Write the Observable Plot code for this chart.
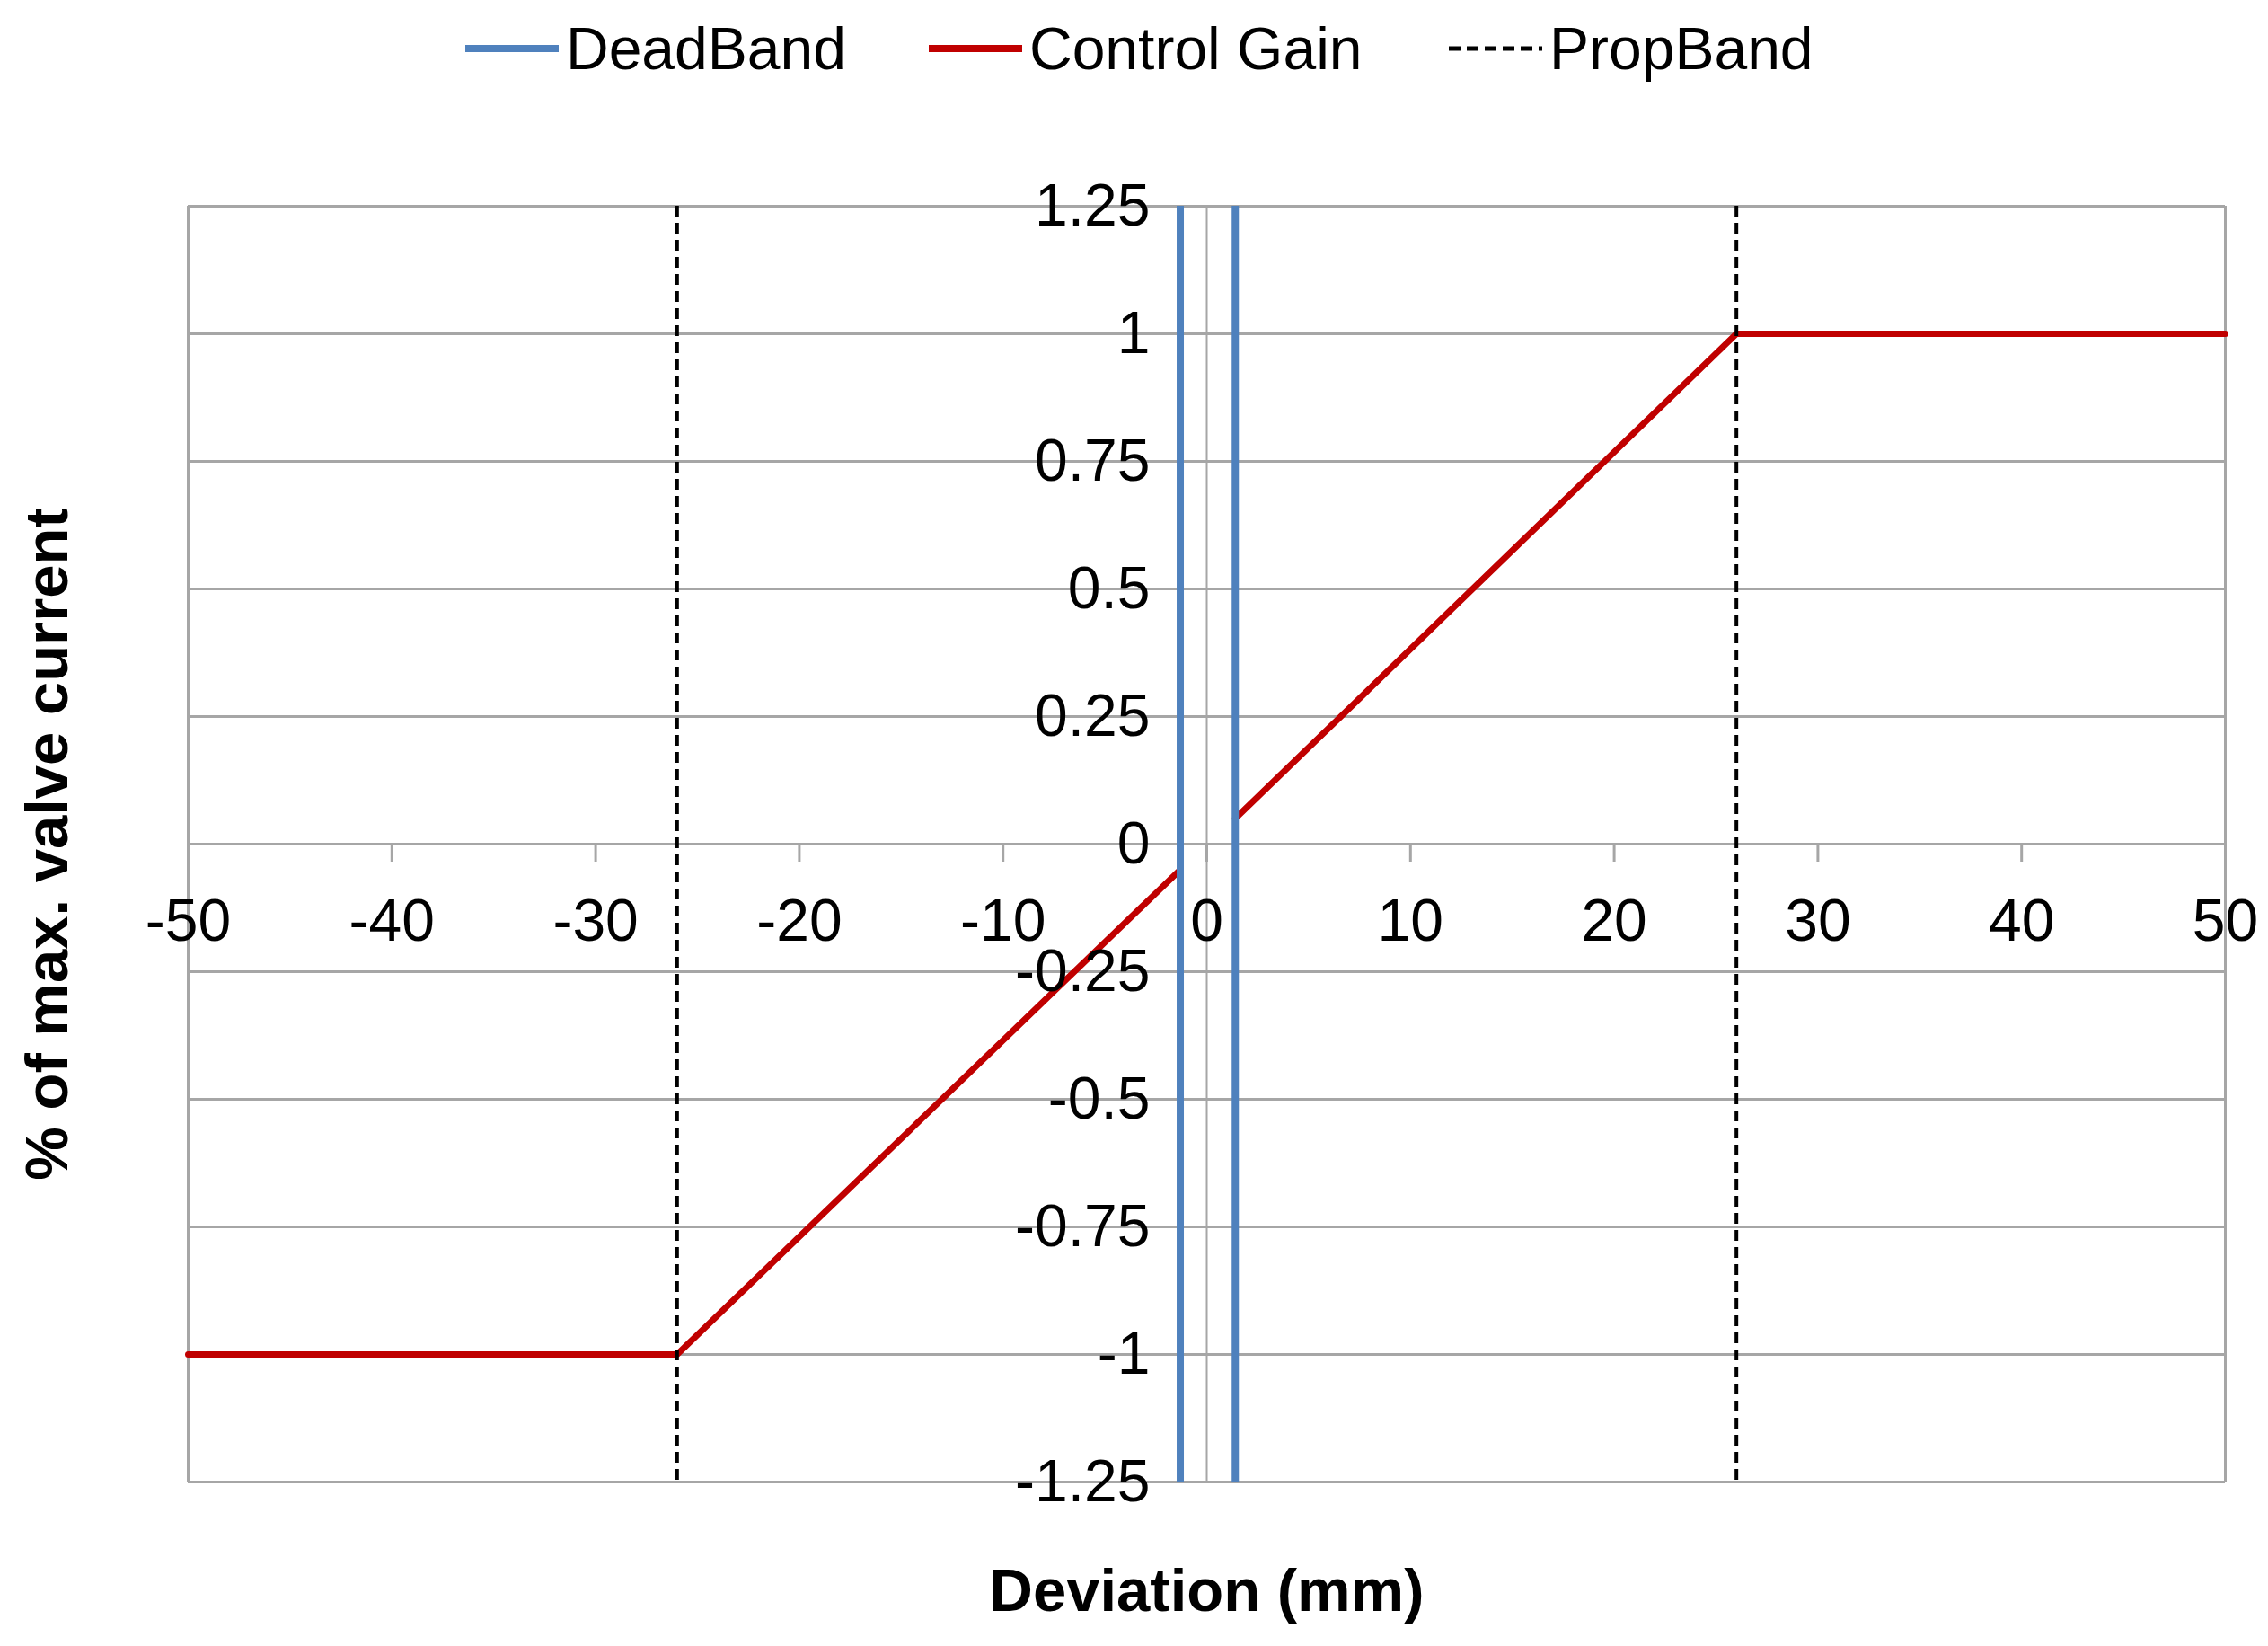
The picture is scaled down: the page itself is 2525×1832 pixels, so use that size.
<!DOCTYPE html>
<html>
<head>
<meta charset="utf-8">
<script src="https://cdn.jsdelivr.net/npm/d3@7"></script>
<script src="https://cdn.jsdelivr.net/npm/@observablehq/plot@0.6"></script>
<style>
  html, body { margin: 0; padding: 0; background: #fff; }
  body { width: 2525px; height: 1832px; overflow: hidden; font-family: "Liberation Sans", Arial, sans-serif; }
  #legend { position: relative; width: 2525px; height: 110px; }
  .item { position: absolute; top: 18px; height: 72px; display: flex; align-items: center; font-size: 66px; color: #000; white-space: nowrap; }
  .item svg { margin-right: 8px; }
  #chart svg { display: block; }
</style>
</head>
<body>
<div id="legend"></div>
<div id="chart"></div>
<script>
// ---- data ----
const xTicks = [-50, -40, -30, -20, -10, 0, 10, 20, 30, 40, 50];
const xTickLabels = ["-50", "-40", "-30", "-20", "-10", "0", "10", "20", "30", "40", "50"];
const yTicks = [1.25, 1, 0.75, 0.5, 0.25, 0, -0.25, -0.5, -0.75, -1, -1.25];
const yTickLabels = ["1.25", "1", "0.75", "0.5", "0.25", "0", "-0.25", "-0.5", "-0.75", "-1", "-1.25"];
const gainX = [-50, -26, -1.3, 1.4, 26, 50];
const gainY = [-1, -1, -0.05, 0.05, 1, 1];
const gainSegment = [0, 0, 0, 1, 1, 1];
const deadBand = [-1.3, 1.4];
const propBand = [-26, 26];
const seriesNames = ["DeadBand", "Control Gain", "PropBand"];
const seriesColors = ["#4F81BD", "#C00000", "#000000"];
const xTitle = "Deviation (mm)";
const yTitle = "% of max. valve current";

const gain = gainX.map((x, i) => ({x, y: gainY[i], seg: gainSegment[i]}));
const xt = xTicks.map((v, i) => ({v, label: xTickLabels[i]}));
const yt = yTicks.map((v, i) => ({v, label: yTickLabels[i]}));

// ---- legend ----
const legendPos = [518, 1034, 1613];
const legend = document.getElementById("legend");
seriesNames.forEach((name, i) => {
  const div = document.createElement("div");
  div.className = "item";
  div.style.left = legendPos[i] + "px";
  const dash = i === 2 ? 'stroke-dasharray="13,7"' : "";
  const sw = i === 2 ? 5 : 8;
  div.innerHTML = `<svg width="104" height="20"><line x1="0" y1="10" x2="104" y2="10" stroke="${seriesColors[i]}" stroke-width="${sw}" ${dash}/></svg><span>${name}</span>`;
  legend.appendChild(div);
});

// ---- chart ----
const grid = "#a6a6a6";
const chart = Plot.plot({
  width: 2525,
  height: 1722,
  marginTop: 119,
  marginBottom: 183,
  marginLeft: 209,
  marginRight: 48,
  style: {fontFamily: "'Liberation Sans', Arial, sans-serif", background: "#fff", color: "#000"},
  x: {domain: [-50, 50], axis: null},
  y: {domain: [-1.25, 1.25], axis: null},
  marks: [
    Plot.ruleY(yTicks, {stroke: grid, strokeWidth: 3}),
    Plot.ruleX([-50, 50], {stroke: grid, strokeWidth: 3}),
    Plot.ruleX([0], {stroke: grid, strokeWidth: 2}),
    Plot.ruleX(xTicks, {y1: 0, y2: 0, insetBottom: -20, stroke: grid, strokeWidth: 3}),
    Plot.line(gain, {x: "x", y: "y", z: "seg", stroke: seriesColors[1], strokeWidth: 7}),
    Plot.ruleX(deadBand, {stroke: seriesColors[0], strokeWidth: 8}),
    Plot.ruleX(propBand, {stroke: seriesColors[2], strokeWidth: 4, strokeDasharray: "12,7"}),
    Plot.text(xt, {x: "v", y: () => 0, text: "label", dy: 86, lineAnchor: "middle", fontSize: 66, fill: "#000"}),
    Plot.text(yt, {x: () => 0, y: "v", text: "label", dx: -63, textAnchor: "end", lineAnchor: "middle", fontSize: 66, fill: "#000"}),
    Plot.text([xTitle], {x: () => 0, frameAnchor: "bottom", text: d => d, dy: 122, lineAnchor: "middle", fontSize: 67, fontWeight: "bold", fill: "#000"}),
    Plot.text([yTitle], {x: () => -50, y: () => 0, text: d => d, dx: -156, rotate: -90, textAnchor: "middle", lineAnchor: "middle", fontSize: 67, fontWeight: "bold", fill: "#000"})
  ]
});
document.getElementById("chart").appendChild(chart);
</script>
</body>
</html>
